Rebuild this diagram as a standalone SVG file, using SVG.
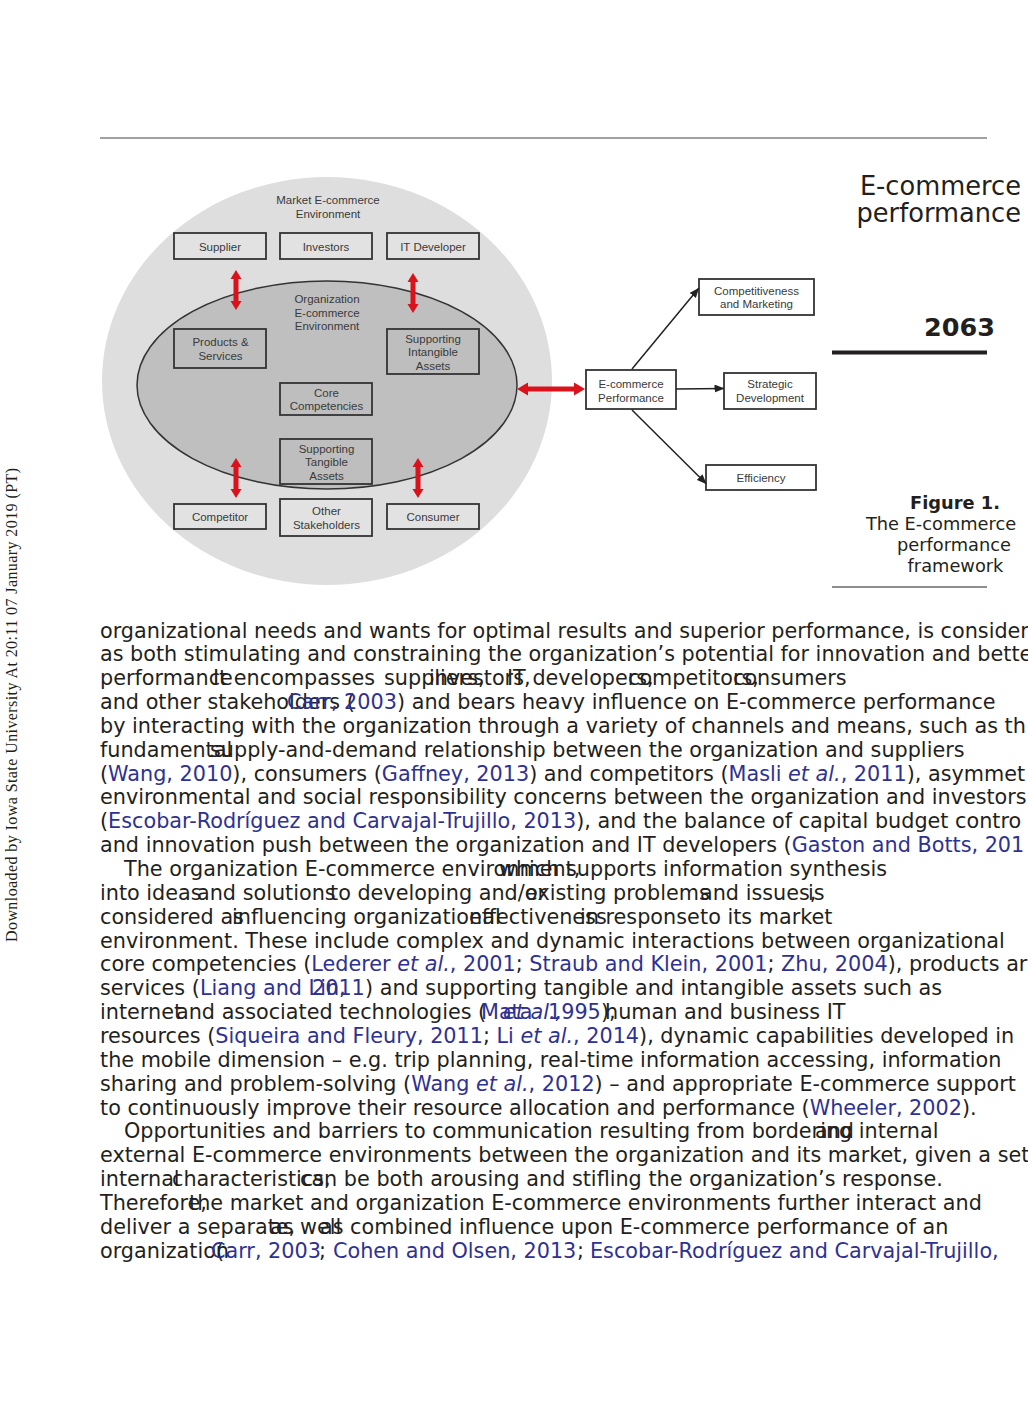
<svg xmlns="http://www.w3.org/2000/svg" width="1028" height="1417" viewBox="0 0 1028 1417">
<defs>
<style>
.t{font-family:"DejaVu Sans",sans-serif;font-size:20.75px;fill:#231f20}
.l{fill:#2e3192}
.i{font-style:italic}
.d{font-family:"Liberation Sans",Arial,sans-serif;font-size:11.5px;fill:#3a3a3a;text-anchor:middle}
.bx{stroke:#333;stroke-width:1.8}
.ob{fill:#e2e2e2}
.ib{fill:#bebebe}
.wb{fill:#fff}
.red{fill:#d9121b}
.conn{stroke:#222;stroke-width:1.5;fill:none;marker-end:url(#ah)}
.hd{font-family:"DejaVu Sans",sans-serif;fill:#231f20}
</style>
<marker id="ah" markerUnits="userSpaceOnUse" markerWidth="10" markerHeight="8" viewBox="0 0 10 8" refX="9" refY="4" orient="auto"><path d="M0,0 L10,4 L0,8 z" fill="#222"/></marker>
<path id="vda" d="M0,0 L5.5,9 L2.5,9 L2.5,31 L5.5,31 L0,40 L-5.5,31 L-2.5,31 L-2.5,9 L-5.5,9 Z"/>
</defs>
<rect width="1028" height="1417" fill="#fff"/>
<line x1="100" y1="138" x2="987" y2="138" stroke="#444" stroke-width="1"/>

<g id="market">
<ellipse cx="327" cy="381" rx="225" ry="204" fill="#dedede"/>
<text class="d" x="328" y="204">Market E-commerce</text>
<text class="d" x="328" y="217.5">Environment</text>
</g>
<g id="supplier"><rect class="bx ob" x="174" y="233" width="92" height="26"/><text class="d" x="220" y="250.8">Supplier</text></g>
<g id="investors"><rect class="bx ob" x="280" y="233" width="92" height="26"/><text class="d" x="326" y="250.8">Investors</text></g>
<g id="it-developer"><rect class="bx ob" x="387" y="233" width="92" height="26"/><text class="d" x="433" y="250.8">IT Developer</text></g>
<g id="organization">
<ellipse cx="327" cy="385" rx="190" ry="104" fill="#bfbfbf" stroke="#333" stroke-width="1.5"/>
<text class="d" x="327" y="303">Organization</text>
<text class="d" x="327" y="316.5">E-commerce</text>
<text class="d" x="327" y="330">Environment</text>
</g>
<g id="products-services"><rect class="bx ib" x="174" y="329" width="92" height="39"/><text class="d" x="220.5" y="345.8">Products &amp;</text><text class="d" x="220.5" y="360">Services</text></g>
<g id="supporting-intangible"><rect class="bx ib" x="387" y="329" width="92" height="45"/><text class="d" x="433" y="342.5">Supporting</text><text class="d" x="433" y="356">Intangible</text><text class="d" x="433" y="369.5">Assets</text></g>
<g id="core-competencies"><rect class="bx ib" x="280" y="383" width="92" height="32"/><text class="d" x="326.5" y="397">Core</text><text class="d" x="326.5" y="410.3">Competencies</text></g>
<g id="supporting-tangible"><rect class="bx ib" x="280" y="439" width="92" height="45"/><text class="d" x="326.5" y="452.5">Supporting</text><text class="d" x="326.5" y="466.3">Tangible</text><text class="d" x="326.5" y="480">Assets</text></g>
<g id="competitor"><rect class="bx ob" x="174" y="504" width="92" height="25"/><text class="d" x="220" y="521">Competitor</text></g>
<g id="other-stakeholders"><rect class="bx ob" x="280" y="499" width="92" height="37"/><text class="d" x="326.5" y="515">Other</text><text class="d" x="326.5" y="529">Stakeholders</text></g>
<g id="consumer"><rect class="bx ob" x="387" y="504" width="92" height="25"/><text class="d" x="433" y="521">Consumer</text></g>

<g id="ecommerce-performance"><rect class="bx wb" x="586" y="370" width="90" height="39"/><text class="d" x="631" y="388.3">E-commerce</text><text class="d" x="631" y="401.5">Performance</text></g>
<g id="competitiveness-marketing"><rect class="bx wb" x="699" y="279" width="115" height="36"/><text class="d" x="756.5" y="295">Competitiveness</text><text class="d" x="756.5" y="308.3">and Marketing</text></g>
<g id="strategic-development"><rect class="bx wb" x="724" y="373" width="92" height="36"/><text class="d" x="770" y="388.3">Strategic</text><text class="d" x="770" y="401.7">Development</text></g>
<g id="efficiency"><rect class="bx wb" x="706" y="465" width="110" height="25"/><text class="d" x="761" y="482.3">Efficiency</text></g>

<g id="connectors">
<use href="#vda" class="red" x="236" y="270"/>
<use href="#vda" class="red" x="413" y="273"/>
<use href="#vda" class="red" x="236" y="458"/>
<use href="#vda" class="red" x="418" y="458"/>
<path class="red" d="M517,389 L528,382.5 L528,386.5 L574,386.5 L574,382.5 L585,389 L574,395.5 L574,391.5 L528,391.5 L528,395.5 Z"/>
<line class="conn" x1="632" y1="369" x2="698.5" y2="288.5"/>
<line class="conn" x1="676" y1="389" x2="723.5" y2="388.5"/>
<line class="conn" x1="632" y1="410" x2="706" y2="483.5"/>
</g>

<g id="header">
<text class="hd" x="1021" y="195" font-size="25.7" text-anchor="end">E-commerce</text>
<text class="hd" x="1021" y="221.5" font-size="25.7" text-anchor="end">performance</text>
<text class="hd" x="995" y="336" font-size="25.5" font-weight="bold" text-anchor="end">2063</text>
<rect x="832" y="350.5" width="155" height="4" fill="#231f20"/>
<text class="hd" x="955" y="509" font-size="17.8" font-weight="bold" text-anchor="middle">Figure 1.</text>
<text class="hd" x="941" y="530" font-size="17.8" text-anchor="middle">The E-commerce</text>
<text class="hd" x="954" y="551" font-size="17.8" text-anchor="middle">performance</text>
<text class="hd" x="955.5" y="572" font-size="17.8" text-anchor="middle">framework</text>
<line x1="832" y1="587" x2="987" y2="587" stroke="#231f20" stroke-width="1.2"/>
</g>

<text x="17" y="705" transform="rotate(-90 17 705)" font-family="Liberation Serif,serif" font-size="16" fill="#231f20" text-anchor="middle" textLength="474">Downloaded by Iowa State University At 20:11 07 January 2019 (PT)</text>

<g id="body-text">
<text class="t" x="100" y="637.5">organizational needs and wants for optimal results and superior performance, is consider</text>
<text class="t" x="100" y="661.35">as both stimulating and constraining the organization’s potential for innovation and bette</text>
<text class="t" y="685.2"><tspan x="100">performance</tspan><tspan x="213">It encompasses</tspan><tspan x="384">suppliers,</tspan><tspan x="429">investors,</tspan><tspan x="507">IT developers,</tspan><tspan x="628">competitors,</tspan><tspan x="733">consumers</tspan></text>
<text class="t" y="709.05"><tspan x="100">and other stakeholders (</tspan><tspan x="287" class="l">Carr, 2003</tspan><tspan x="397">) and bears heavy influence on E-commerce performance</tspan></text>
<text class="t" x="100" y="732.9">by interacting with the organization through a variety of channels and means, such as th</text>
<text class="t" y="756.75"><tspan x="100">fundamental</tspan><tspan x="210">supply-and-demand relationship between the organization and suppliers</tspan></text>
<text class="t" x="100" y="780.6">(<tspan class="l">Wang, 2010</tspan>), consumers (<tspan class="l">Gaffney, 2013</tspan>) and competitors (<tspan class="l">Masli <tspan class="i">et al.</tspan>, 2011</tspan>), asymmet</text>
<text class="t" x="100" y="804.45">environmental and social responsibility concerns between the organization and investors</text>
<text class="t" x="100" y="828.3">(<tspan class="l">Escobar-Rodríguez and Carvajal-Trujillo, 2013</tspan>), and the balance of capital budget contro</text>
<text class="t" x="100" y="852.15">and innovation push between the organization and IT developers (<tspan class="l">Gaston and Botts, 201</tspan></text>
<text class="t" y="876"><tspan x="124">The organization E-commerce environment,</tspan><tspan x="499">which supports information synthesis</tspan></text>
<text class="t" y="899.85"><tspan x="100">into ideas</tspan><tspan x="197">and solutions</tspan><tspan x="330">to developing and/or</tspan><tspan x="525">existing problems</tspan><tspan x="700">and issues,</tspan><tspan x="808">is</tspan></text>
<text class="t" y="923.7"><tspan x="100">considered as</tspan><tspan x="232">influencing organizational</tspan><tspan x="469">effectiveness</tspan><tspan x="580">in response</tspan><tspan x="700">to its market</tspan></text>
<text class="t" x="100" y="947.55">environment. These include complex and dynamic interactions between organizational</text>
<text class="t" x="100" y="971.4">core competencies (<tspan class="l">Lederer <tspan class="i">et al.</tspan>, 2001</tspan>; <tspan class="l">Straub and Klein, 2001</tspan>; <tspan class="l">Zhu, 2004</tspan>), products ar</text>
<text class="t" y="995.25"><tspan x="100">services (</tspan><tspan x="200" class="l">Liang and Lin,</tspan><tspan x="312" class="l">2011</tspan><tspan x="365">) and supporting tangible and intangible assets such as</tspan></text>
<text class="t" y="1019.1"><tspan x="100">internet</tspan><tspan x="176">and associated technologies (</tspan><tspan x="481" class="l">Mata</tspan><tspan x="503" class="l i">et al.,</tspan><tspan x="548" class="l">1995</tspan><tspan x="601">),</tspan><tspan x="605">human and business IT</tspan></text>
<text class="t" x="100" y="1042.95">resources (<tspan class="l">Siqueira and Fleury, 2011</tspan>; <tspan class="l">Li <tspan class="i">et al.</tspan>, 2014</tspan>), dynamic capabilities developed in</text>
<text class="t" x="100" y="1066.8">the mobile dimension – e.g. trip planning, real-time information accessing, information</text>
<text class="t" x="100" y="1090.65">sharing and problem-solving (<tspan class="l">Wang <tspan class="i">et al.</tspan>, 2012</tspan>) – and appropriate E-commerce support</text>
<text class="t" x="100" y="1114.5">to continuously improve their resource allocation and performance (<tspan class="l">Wheeler, 2002</tspan>).</text>
<text class="t" y="1138.35"><tspan x="124">Opportunities and barriers to communication resulting from bordering internal</tspan><tspan x="815">and</tspan></text>
<text class="t" x="100" y="1162.2">external E-commerce environments between the organization and its market, given a set</text>
<text class="t" y="1186.05"><tspan x="100">internal</tspan><tspan x="172">characteristics,</tspan><tspan x="300">can be both arousing and stifling the organization’s response.</tspan></text>
<text class="t" y="1209.9"><tspan x="100">Therefore,</tspan><tspan x="189">the market and organization E-commerce environments further interact and</tspan></text>
<text class="t" y="1233.75"><tspan x="100">deliver a separate,</tspan><tspan x="270">as well</tspan><tspan x="320">as combined influence upon E-commerce performance of an</tspan></text>
<text class="t" y="1257.6"><tspan x="100">organization</tspan><tspan x="216">(</tspan><tspan x="211" class="l">Carr, 2003</tspan><tspan x="319">; </tspan><tspan x="333" class="l">Cohen and Olsen, 2013</tspan><tspan x="577">; </tspan><tspan x="590" class="l">Escobar-Rodríguez and Carvajal-Trujillo,</tspan></text>
</g>
</svg>
